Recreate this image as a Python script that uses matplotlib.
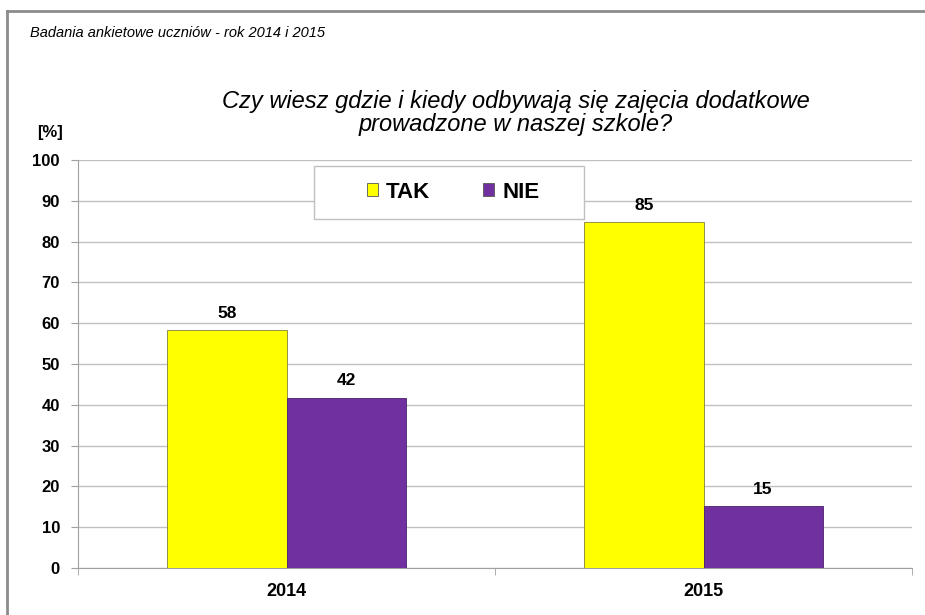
import numpy as np
import matplotlib
matplotlib.use("Agg")
import matplotlib.pyplot as plt
from matplotlib.lines import Line2D
from matplotlib.patches import Rectangle

# Data
years = ["2014", "2015"]
tak = [58.3, 84.8]
nie = [41.7, 15.2]
series_names = ["TAK", "NIE"]

plt.rcParams['font.family'] = ['Liberation Sans', 'DejaVu Sans']

fig = plt.figure(figsize=(9.25, 6.15), dpi=100)
ax = fig.add_axes([78 / 925, 1 - 568 / 615, (912 - 78) / 925, (568 - 160) / 615])

x = np.arange(len(years))
w = 1 / 3.5
b1 = ax.bar(x - w / 2, tak, w, color="#FFFF00", edgecolor="#7f7f40", linewidth=0.6,
            label=series_names[0], zorder=3)
b2 = ax.bar(x + w / 2, nie, w, color="#7030A0", edgecolor="#4a2070", linewidth=0.6,
            label=series_names[1], zorder=3)

for bars in (b1, b2):
    for r in bars:
        v = r.get_height()
        ax.text(r.get_x() + r.get_width() / 2, v + 2.3, "%d" % round(v),
                ha="center", va="bottom", fontsize=12.5, fontweight="bold")

ax.set_xlim(-0.5, 1.5)
ax.set_ylim(0, 100)
ax.set_yticks(np.arange(0, 101, 10))
ax.yaxis.grid(True, color="#c0c0c0", linewidth=1)
ax.set_axisbelow(True)
ax.set_xticks(x)
ax.set_xticklabels(years)
ax.set_xticks([-0.5, 0.5, 1.5], minor=True)
ax.tick_params(axis="x", which="major", length=0, pad=11)
ax.tick_params(axis="x", which="minor", length=5, color="#a0a0a0")
ax.tick_params(axis="y", length=5, color="#a0a0a0", pad=8)
for lab in ax.get_yticklabels():
    lab.set_fontweight("bold")
    lab.set_fontsize(12)
for lab in ax.get_xticklabels():
    lab.set_fontweight("bold")
    lab.set_fontsize(13)
for s in ["top", "right"]:
    ax.spines[s].set_visible(False)
for s in ["left", "bottom"]:
    ax.spines[s].set_color("#a0a0a0")

# legend box
box = Rectangle((314 / 925, 1 - 219 / 615), 270 / 925, 53 / 615, transform=fig.transFigure,
                facecolor="white", edgecolor="#c0c0c0", linewidth=1, zorder=5)
fig.add_artist(box)
leg = fig.legend(loc="center", bbox_to_anchor=(453 / 925, 1 - 192 / 615),
                 ncol=2, frameon=False, prop={"weight": "bold", "size": 16},
                 handlelength=0.5, handleheight=0.5, columnspacing=2.4,
                 handletextpad=0.35, borderpad=0, borderaxespad=0)
leg.set_zorder(6)
for h in leg.legend_handles:
    h.set_edgecolor("#555555")

fig.text(30 / 925, 1 - 33 / 615, "Badania ankietowe uczniów - rok 2014 i 2015",
         fontsize=10.5, style="italic", va="center", ha="left")
fig.text(516 / 925, 1 - 113 / 615,
         "Czy wiesz gdzie i kiedy odbywają się zajęcia dodatkowe\nprowadzone w naszej szkole?",
         fontsize=17, style="italic", ha="center", va="center", linespacing=1.05)
fig.text(50 / 925, 1 - 133 / 615, "[%]", fontsize=12, fontweight="bold", ha="center", va="center")

# outer frame (top and left edge)
fig.add_artist(Line2D([7 / 925, 1], [1 - 11 / 615, 1 - 11 / 615], color="#8c8c8c", linewidth=2))
fig.add_artist(Line2D([7 / 925, 7 / 925], [0, 1 - 11 / 615], color="#8c8c8c", linewidth=2))

fig.savefig("out.png", dpi=100)
